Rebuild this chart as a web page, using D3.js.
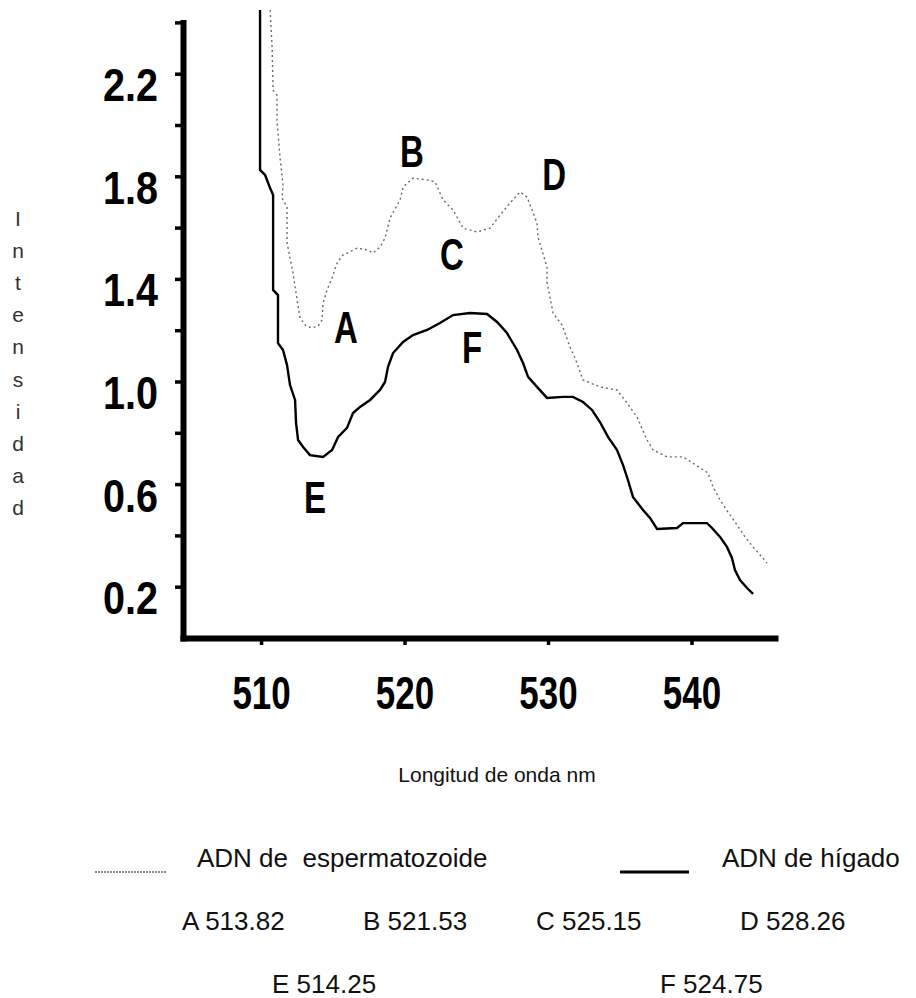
<!DOCTYPE html>
<html>
<head>
<meta charset="utf-8">
<script src="https://cdn.jsdelivr.net/npm/d3@7/dist/d3.min.js"></script>
<style>
  html, body { margin: 0; padding: 0; background: #fff; }
  svg { display: block; }
</style>
</head>
<body>
<div id="chart"></div>
<script>
// ---------------- DATA ----------------
// ADN de espermatozoide (dotted curve)
const spermX = [510.63, 510.77, 510.84, 511.11, 511.11, 511.32, 511.53, 511.46, 511.81, 511.81,
  512.23, 512.51, 512.72, 513.14, 513.55, 513.97, 514.25, 514.32, 514.60, 514.95,
  515.30, 515.71, 516.69, 517.39, 517.80, 518.29, 518.64, 518.99, 519.69, 519.90,
  520.59, 521.57, 522.13, 522.68, 523.38, 524.08, 525.05, 525.96, 526.66, 527.35,
  528.05, 528.54, 529.23, 529.30, 529.93, 529.93, 530.35, 530.98, 531.53, 531.88,
  532.44, 533.62, 534.81, 535.51, 536.20, 536.90, 537.32, 538.29, 539.41, 540.10,
  541.15, 541.50, 541.99, 542.54, 543.17, 543.73, 544.29, 544.91, 545.26];
const spermY = [2.448, 2.304, 2.136, 2.117, 2.019, 1.875, 1.766, 1.715, 1.680, 1.540,
  1.423, 1.318, 1.248, 1.216, 1.209, 1.216, 1.240, 1.306, 1.357, 1.404,
  1.462, 1.493, 1.520, 1.513, 1.501, 1.524, 1.559, 1.637, 1.708, 1.758,
  1.793, 1.786, 1.778, 1.708, 1.669, 1.598, 1.583, 1.598, 1.649, 1.696,
  1.739, 1.719, 1.618, 1.563, 1.446, 1.388, 1.267, 1.220, 1.135, 1.092,
  1.006, 0.979, 0.967, 0.916, 0.862, 0.772, 0.733, 0.706, 0.706, 0.682,
  0.643, 0.589, 0.538, 0.491, 0.441, 0.394, 0.355, 0.316, 0.292];

// ADN de hígado (solid curve)
const liverX = [509.93, 509.93, 510.28, 510.63, 510.84, 510.84, 511.18, 511.18, 511.53, 511.81,
  512.02, 512.37, 512.44, 512.58, 512.93, 513.41, 514.32, 514.95, 515.37, 515.99,
  516.41, 516.90, 517.60, 518.29, 518.64, 518.85, 519.20, 519.90, 520.59, 521.57,
  522.47, 523.38, 524.56, 525.75, 526.45, 527.14, 527.84, 528.26, 528.61, 529.23,
  529.93, 531.05, 531.74, 532.44, 533.07, 533.62, 534.18, 534.81, 535.23, 535.57,
  535.92, 536.62, 537.11, 537.60, 538.99, 539.41, 541.08, 541.43, 541.99, 542.47,
  542.82, 543.03, 543.38, 543.87, 544.29];
const liverY = [2.448, 1.825, 1.805, 1.754, 1.727, 1.357, 1.337, 1.150, 1.123, 1.064,
  0.986, 0.928, 0.838, 0.772, 0.745, 0.713, 0.706, 0.733, 0.784, 0.819,
  0.877, 0.901, 0.928, 0.967, 0.998, 1.057, 1.111, 1.154, 1.181, 1.201,
  1.228, 1.259, 1.267, 1.263, 1.232, 1.189, 1.123, 1.072, 1.018, 0.979,
  0.936, 0.940, 0.940, 0.920, 0.889, 0.842, 0.784, 0.733, 0.674, 0.616,
  0.550, 0.499, 0.468, 0.425, 0.429, 0.448, 0.448, 0.429, 0.394, 0.355,
  0.312, 0.265, 0.226, 0.195, 0.172];

// Axis ticks
const yTicks = [0.2, 0.4, 0.6, 0.8, 1.0, 1.2, 1.4, 1.6, 1.8, 2.0, 2.2, 2.4];
const yLabels = [0.2, 0.6, 1.0, 1.4, 1.8, 2.2];
const xTicks = [510, 520, 530, 540];

// Peak letters drawn on the chart (data coordinates: nm, intensity at text baseline)
const peakLetters = ["A", "B", "C", "D", "E", "F"];
const peakLetterX = [515.92, 520.52, 523.31, 530.42, 513.76, 524.70];
const peakLetterY = [1.150, 1.836, 1.435, 1.747, 0.487, 1.072];

// Peak values listed below the chart
const peakRow1 = ["A 513.82", "B 521.53", "C 525.15", "D 528.26"];
const peakRow2 = ["E 514.25", "F 524.75"];

const seriesNames = ["ADN de  espermatozoide", "ADN de hígado"];
const xTitle = "Longitud de onda nm";
const yTitle = "Intensidad";

// ---------------- CHART ----------------
const W = 916, H = 998;
const svg = d3.select("#chart").append("svg")
  .attr("width", W).attr("height", H)
  .style("background", "#fff");

const x = d3.scaleLinear().domain([504.56, 545.82]).range([183, 775]);
const y = d3.scaleLinear().domain([0, 2.4]).range([638, 22.4]);

const boldFont = "'Liberation Sans', Arial, sans-serif";
const regFont = "'Liberation Sans', Arial, sans-serif";

// Y axis
const yAxis = d3.axisLeft(y)
  .tickValues(yTicks)
  .tickSize(8)
  .tickSizeOuter(0)
  .tickFormat(d => yLabels.some(v => Math.abs(v - d) < 1e-9) ? d.toFixed(1) : "");
const gy = svg.append("g").attr("transform", `translate(${x.range()[0]},0)`).call(yAxis);
gy.select(".domain").attr("stroke", "#000").attr("stroke-width", 6).attr("stroke-linecap", "square");
gy.selectAll(".tick line").attr("stroke", "#000").attr("stroke-width", 3.5);
gy.selectAll(".tick text")
  .attr("fill", "#000")
  .attr("font-family", boldFont)
  .attr("font-weight", "bold")
  .attr("font-size", 46)
  .attr("text-anchor", "end")
  .attr("dy", null)
  .attr("x", -25 / 0.86)
  .attr("y", 27)
  .attr("transform", "scale(0.86,1)");

// X axis
const xAxis = d3.axisBottom(x)
  .tickValues(xTicks)
  .tickSize(7)
  .tickSizeOuter(0)
  .tickFormat(d3.format("d"));
const gx = svg.append("g").attr("transform", `translate(0,${y(0)})`).call(xAxis);
gx.select(".domain").attr("stroke", "#000").attr("stroke-width", 6).attr("stroke-linecap", "square");
gx.selectAll(".tick line").attr("stroke", "#000").attr("stroke-width", 3.5);
gx.selectAll(".tick text")
  .attr("fill", "#000")
  .attr("font-family", boldFont)
  .attr("font-weight", "bold")
  .attr("font-size", 46)
  .attr("text-anchor", "middle")
  .attr("dy", null)
  .attr("y", 71)
  .attr("transform", "scale(0.76,1)");

// Curves
const sperm = spermX.map((v, i) => [v, spermY[i]]);
const liver = liverX.map((v, i) => [v, liverY[i]]);
const line = d3.line().x(d => x(d[0])).y(d => y(d[1]));

svg.append("path").datum(sperm)
  .attr("d", line)
  .attr("fill", "none")
  .attr("stroke", "#6a6a6a")
  .attr("stroke-width", 1.4)
  .attr("stroke-dasharray", "2,3");

svg.append("path").datum(liver)
  .attr("d", line)
  .attr("fill", "none")
  .attr("stroke", "#000")
  .attr("stroke-width", 2.4);

// Peak letters
svg.append("g").selectAll("text").data(peakLetters).join("text")
  .attr("transform", (d, i) => `translate(${x(peakLetterX[i])},${y(peakLetterY[i])}) scale(0.75,1)`)
  .attr("text-anchor", "middle")
  .attr("font-family", boldFont)
  .attr("font-weight", "bold")
  .attr("font-size", 44)
  .attr("fill", "#000")
  .text(d => d);

// Axis titles
svg.append("text")
  .attr("x", 497).attr("y", 782)
  .attr("text-anchor", "middle")
  .attr("font-family", regFont)
  .attr("font-size", 21)
  .attr("fill", "#111")
  .text(xTitle);

svg.append("g").selectAll("text").data(yTitle.split("")).join("text")
  .attr("x", 18)
  .attr("y", (d, i) => 226 + i * 32.1)
  .attr("text-anchor", "middle")
  .attr("font-family", regFont)
  .attr("font-size", 21)
  .attr("fill", "#333")
  .text(d => d);

// Legend
const lg = svg.append("g");
lg.append("line").attr("x1", 95).attr("x2", 167).attr("y1", 872).attr("y2", 872)
  .attr("stroke", "#6a6a6a").attr("stroke-width", 1.4).attr("stroke-dasharray", "2,1");
lg.append("text").attr("x", 197).attr("y", 867)
  .attr("font-family", regFont).attr("font-size", 26).attr("fill", "#111")
  .attr("xml:space", "preserve").style("white-space", "pre")
  .text(seriesNames[0]);
lg.append("line").attr("x1", 620).attr("x2", 689).attr("y1", 872).attr("y2", 872)
  .attr("stroke", "#000").attr("stroke-width", 3);
lg.append("text").attr("x", 722).attr("y", 867)
  .attr("font-family", regFont).attr("font-size", 26).attr("fill", "#111")
  .text(seriesNames[1]);

// Peak value rows
const row1X = [182, 363, 536, 740];
svg.append("g").selectAll("text").data(peakRow1).join("text")
  .attr("x", (d, i) => row1X[i]).attr("y", 930)
  .attr("font-family", regFont).attr("font-size", 26).attr("fill", "#111")
  .text(d => d);
const row2X = [272, 660];
svg.append("g").selectAll("text").data(peakRow2).join("text")
  .attr("x", (d, i) => row2X[i]).attr("y", 993)
  .attr("font-family", regFont).attr("font-size", 26).attr("fill", "#111")
  .text(d => d);
</script>
</body>
</html>
